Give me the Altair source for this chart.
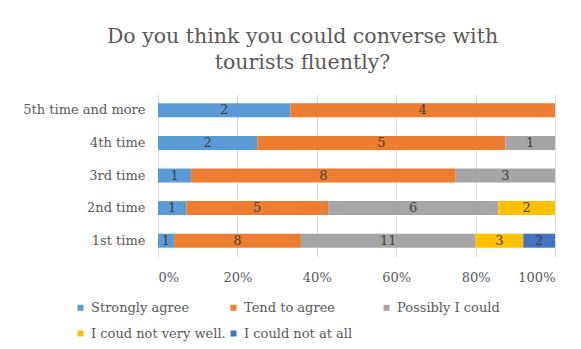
import altair as alt
import pandas as pd

categories = ["1st time", "2nd time", "3rd time", "4th time", "5th time and more"]
series_names = ["Strongly agree", "Tend to agree", "Possibly I could",
                "I coud not very well.", "I could not at all"]
series_colors = ["#5B9BD5", "#ED7D31", "#A5A5A5", "#FFC000", "#4472C4"]

strongly_agree = [1, 1, 1, 2, 2]
tend_to_agree = [8, 5, 8, 5, 4]
possibly_could = [11, 6, 3, 1, 0]
not_very_well = [3, 2, 0, 0, 0]
not_at_all = [2, 0, 0, 0, 0]

all_series = [strongly_agree, tend_to_agree, possibly_could, not_very_well, not_at_all]
rows = []
for i, cat in enumerate(categories):
    for k, (name, vals) in enumerate(zip(series_names, all_series)):
        if vals[i] > 0:
            rows.append({"category": cat, "series": name, "k": k, "value": vals[i]})
df = pd.DataFrame(rows)

FONT = "DejaVu Serif"
y_order = list(reversed(categories))

base = (
    alt.Chart(df)
    .transform_joinaggregate(total="sum(value)", groupby=["category"])
    .transform_window(cum="sum(value)", groupby=["category"],
                      sort=[alt.SortField("k")], frame=[None, 0])
    .transform_calculate(
        x0="(datum.cum - datum.value) / datum.total",
        x1="datum.cum / datum.total",
        xm="(datum.cum - datum.value / 2) / datum.total",
    )
)

bars = base.mark_bar(size=14).encode(
    x=alt.X("x0:Q", scale=alt.Scale(domain=[0, 1], nice=False),
            axis=alt.Axis(format="%", values=[0, 0.2, 0.4, 0.6, 0.8, 1.0],
                          title=None, domain=False, ticks=False,
                          grid=True, gridColor="#D9D9D9", labelPadding=14,
                          labelFont=FONT, labelFontSize=13, labelColor="#595959")),
    x2="x1:Q",
    y=alt.Y("category:N", sort=y_order,
            axis=alt.Axis(title=None, domain=False, ticks=False, labelPadding=13,
                          labelFont=FONT, labelFontSize=13, labelColor="#595959")),
    color=alt.Color("series:N",
                    scale=alt.Scale(domain=series_names, range=series_colors),
                    legend=alt.Legend(title=None, orient="none", legendX=-84, legendY=207,
                                      direction="horizontal", columns=3, gridAlign="all",
                                      symbolType="square", symbolSize=36,
                                      symbolStrokeWidth=0, labelFont=FONT,
                                      labelFontSize=13, labelColor="#595959",
                                      labelOffset=4, rowPadding=12, columnPadding=1,
                                      padding=0)),
    order=alt.Order("k:Q"),
)

labels = base.mark_text(font=FONT, fontSize=13, color="#404040", baseline="middle").encode(
    x="xm:Q",
    y=alt.Y("category:N", sort=y_order),
    text="value:Q",
)

chart = (
    alt.layer(bars, labels)
    .properties(
        width=397, height=163,
        title=alt.TitleParams(["Do you think you could converse with", "tourists fluently?"],
                              font=FONT, fontSize=20.5, fontWeight="normal",
                              color="#595959", anchor="middle", dx=-54,
                              lineHeight=26, offset=21),
        autosize=alt.AutoSizeParams(type="none"),
        padding={"left": 150, "top": 86, "right": 18, "bottom": 84},
    )
    .configure_view(stroke=None)
)

chart.save("out.html", embed_options={"renderer": "svg", "actions": False})
